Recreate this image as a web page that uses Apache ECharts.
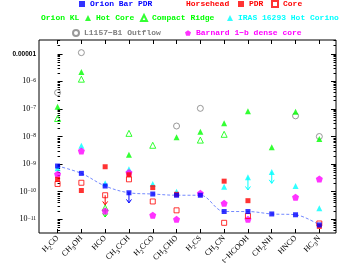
<!DOCTYPE html>
<html><head><meta charset="utf-8">
<script src="https://cdn.jsdelivr.net/npm/echarts@6/dist/echarts.min.js"></script>
<style>html,body{margin:0;padding:0;background:#fff}#c{width:339px;height:265px}</style>
</head><body><div id="c"></div>
<script>
// ---- data (abundances relative to H2) ----
const categories = ['H2CO','CH3OH','HCO','CH3CCH','H2CCO','CH3CHO','H2CS','CH3CN','t\u2212HCOOH','CH2NH','HNCO','HC3N'];
const orionBar     = [8.5e-10, 4.6e-10, 1.6e-10, 9.1e-11, 8.2e-11, 7.4e-11, 7.4e-11, 1.9e-11, 1.9e-11, 1.55e-11, 1.45e-11, 6.2e-12];
const horseheadPDR = [2.8e-10, 1.1e-10, 8.0e-10, 4.1e-10, 1.4e-10, 8.0e-11, null, 2.4e-10, 4.7e-11, null, null, 5.5e-12];
const horseheadCore= [1.9e-10, 2.1e-10, 7.4e-11, 2.8e-10, 4.4e-11, 2.1e-11, null, 7.4e-12, 1.3e-11, null, null, 7.0e-12];
const hotCore      = [1.2e-7, 2.2e-6, null, 2.2e-9, null, 9.3e-9, 1.5e-8, 3.0e-8, 8.3e-8, 4.1e-9, 7.9e-8, 8.2e-9];
const compactRidge = [4.5e-8, 1.2e-6, 2.6e-11, 1.3e-8, 4.8e-9, null, 7.4e-9, 1.2e-8, null, null, null, null];
const iras16293    = [7.0e-10, 4.6e-9, 2.0e-10, 6.5e-10, 1.9e-10, 1.0e-10, null, 1.5e-10, 3.3e-10, 5.2e-10, 1.6e-10, 2.5e-11];
const l1157        = [3.9e-7, 1.1e-5, null, null, null, 2.4e-8, 1.05e-7, null, null, null, 5.6e-8, 1.0e-8];
const barnard      = [4.3e-10, 3.0e-9, 2.0e-11, 4.9e-10, 1.4e-11, 1.0e-11, 8.7e-11, 3.8e-11, 1.0e-11, null, 6.3e-11, 2.9e-10];
// upper-limit arrows: [category index, from, to]
const arrowsOrionBar = [[3, 9.1e-11, 3.9e-11]];
const arrowsHHCore   = [[2, 7.4e-11, 3.3e-11]];
const arrowsCompact  = [[2, 2.6e-11, 1.2e-11]];
const arrowsIras     = [[8, 3.3e-10, 1.15e-10], [9, 5.2e-10, 2.0e-10]];
const yMajorTicks = [-11, -10, -9, -8, -7, -6, -5];

// ---- helpers ----
const lg = v => Math.log10(v);
const pts = arr => arr.map((v, i) => v == null ? null : [i, lg(v)]).filter(Boolean);
const yMin = -11.5, yMax = -4.5;
const minorTicks = [];
for (let n = -12; n <= -5; n++) for (let k = 2; k <= 9; k++) { const t = n + Math.log10(k); if (t > yMin && t < yMax) minorTicks.push(t); }
const catIdx = categories.map((c, i) => i);
const PENT = 'path://M0,-1 L0.951,-0.309 L0.588,0.809 L-0.588,0.809 L-0.951,-0.309 Z';
const BLUE = '#0000ff', RED = '#ff0000', GREEN = '#00ff00', CYAN = '#00ffff', GRAY = '#808080', MAG = '#ff00ff';

function subLabel(s) {
  const parts = s.split(/(\d)/).filter(p => p !== '');
  return parts.map(p => /^\d$/.test(p) ? '{s|' + p + '}' : '{n|' + p + '}').join('');
}

function yAx(pos, ticks, len, showLabel) {
  return {
    type: 'value', min: yMin, max: yMax, position: pos,
    axisLine: { show: false }, splitLine: { show: false },
    axisTick: { show: true, inside: true, length: len, customValues: ticks, lineStyle: { color: '#000', width: 1 } },
    axisLabel: showLabel ? {
      customValues: yMajorTicks, margin: 3,
      formatter: v => Math.round(v) === -5 ? '{a|0.00001}' : '{b|10}{c|\u2212' + Math.abs(Math.round(v)) + '}',
      rich: {
        a: { fontFamily: 'Liberation Sans', fontSize: 6.5, fontWeight: 'bold', color: '#000' },
        b: { fontFamily: 'Liberation Serif', fontSize: 8, lineHeight: 8, verticalAlign: 'bottom', color: '#000' },
        c: { fontFamily: 'Liberation Serif', fontSize: 5.5, lineHeight: 6, padding: [0, 0, 5, 0], verticalAlign: 'top', color: '#000' }
      }
    } : { show: false },
    name: showLabel ? '{n|N(X)/N(H}{s|2}{n|)}' : '',
    nameLocation: 'middle', nameGap: 27,
    nameTextStyle: {
      padding: [0, 0, 0, 26],
      rich: {
        n: { fontFamily: 'Liberation Serif', fontSize: 9, lineHeight: 9, verticalAlign: 'top', color: '#000' },
        s: { fontFamily: 'Liberation Serif', fontSize: 6.5, lineHeight: 7, padding: [4, 0, 0, 0], verticalAlign: 'top', color: '#000' }
      }
    }
  };
}

function scatter(name, data, symbol, size, color, open, z) {
  return {
    name, type: 'scatter', data: pts(data), symbol, symbolSize: size, z: z,
    itemStyle: open ? { color: 'rgba(255,255,255,0)', borderColor: color, borderWidth: 1 } : { color: color, borderWidth: 0 },
    emphasis: { disabled: true }
  };
}
function arrowSeries(list, color, z) {
  return {
    type: 'custom', z: z, silent: true,
    data: list.map(a => [a[0], lg(a[1]), lg(a[2])]),
    renderItem: (params, api) => {
      const p0 = api.coord([api.value(0), api.value(1)]);
      const p1 = api.coord([api.value(0), api.value(2)]);
      return { type: 'group', children: [
        { type: 'line', shape: { x1: p0[0], y1: p0[1], x2: p1[0], y2: p1[1] }, style: { stroke: color, lineWidth: 1 } },
        { type: 'polyline', shape: { points: [[p1[0] - 2.5, p1[1] - 3.5], [p1[0], p1[1]], [p1[0] + 2.5, p1[1] - 3.5]] }, style: { stroke: color, lineWidth: 1, fill: null } }
      ] };
    }
  };
}
const legTxt = { fontFamily: 'Liberation Mono', fontWeight: 'bold', fontSize: 8 };
function leg(name, left, top, color) {
  return { left, top, padding: 0, itemWidth: 6, itemHeight: 6, selectedMode: false, itemGap: 0,
    data: [{ name, textStyle: Object.assign({ color }, legTxt) }], textStyle: legTxt };
}

const chart = echarts.init(document.getElementById('c'), null, { renderer: 'canvas' });
chart.setOption({
  animation: false,
  backgroundColor: '#fff',
  title: [
    { text: 'Horsehead', left: 186, top: 0, padding: 0, textStyle: Object.assign({ color: RED }, legTxt) },
    { text: 'Orion KL', left: 41, top: 14, padding: 0, textStyle: Object.assign({ color: GREEN }, legTxt) }
  ],
  legend: [
    leg('Orion Bar PDR', 79, 0, BLUE),
    leg('PDR', 238, 0, RED),
    leg('Core', 271, 0, RED),
    leg('Hot Core', 85, 14, GREEN),
    leg('Compact Ridge', 140, 14, GREEN),
    leg('IRAS 16293 Hot Corino', 227, 14, CYAN),
    leg('L1157\u2212B1 Outflow', 72, 29, GRAY),
    leg('Barnard 1\u2212b dense core', 185, 29, MAG)
  ],
  grid: { left: 39, right: 3, top: 40, bottom: 32, show: true, borderColor: '#000', borderWidth: 1, backgroundColor: 'transparent', containLabel: false, outerBoundsMode: 'none' },
  xAxis: [
    { type: 'value', min: -0.78, max: 11.7, position: 'bottom',
      axisLine: { show: false }, splitLine: { show: false },
      axisTick: { inside: true, length: 4, customValues: catIdx, lineStyle: { color: '#000' } },
      axisLabel: { customValues: catIdx, rotate: 45, margin: 4,
        formatter: v => subLabel(categories[Math.round(v)] || ''),
        rich: {
          n: { fontFamily: 'Liberation Serif', fontSize: 8, lineHeight: 8, verticalAlign: 'top', color: '#000' },
          s: { fontFamily: 'Liberation Serif', fontSize: 6, lineHeight: 6, padding: [4, 0, 0, 0], verticalAlign: 'top', color: '#000' }
        } } },
    { type: 'value', min: -0.78, max: 11.7, position: 'top',
      axisLine: { show: false }, splitLine: { show: false },
      axisTick: { inside: true, length: 4, customValues: catIdx, lineStyle: { color: '#000' } },
      axisLabel: { show: false } }
  ],
  yAxis: [
    yAx('left', yMajorTicks, 5, true),
    yAx('left', minorTicks, 2.5, false),
    yAx('right', yMajorTicks, 5, false),
    yAx('right', minorTicks, 2.5, false)
  ],
  series: [
    { type: 'line', data: pts(orionBar), smooth: 0.35, symbol: 'none', z: 1, silent: true,
      lineStyle: { color: '#3050ff', width: 0.8, type: [3, 2], opacity: 0.85 } },
    arrowSeries(arrowsCompact, GREEN, 2),
    arrowSeries(arrowsHHCore, RED, 2),
    arrowSeries(arrowsIras, CYAN, 2),
    arrowSeries(arrowsOrionBar, BLUE, 2),
    scatter('L1157\u2212B1 Outflow', l1157, 'circle', 6, GRAY, true, 3),
    scatter('Hot Core', hotCore, 'triangle', 6, GREEN, false, 3),
    scatter('Compact Ridge', compactRidge, 'triangle', 6, GREEN, true, 3),
    scatter('IRAS 16293 Hot Corino', iras16293, 'triangle', 6, CYAN, false, 4),
    scatter('Barnard 1\u2212b dense core', barnard, PENT, 7, MAG, false, 5),
    scatter('PDR', horseheadPDR, 'rect', 5, RED, false, 5),
    scatter('Core', horseheadCore, 'rect', 5, RED, true, 5),
    scatter('Orion Bar PDR', orionBar, 'rect', 5, BLUE, false, 6)
  ]
});
</script></body></html>
